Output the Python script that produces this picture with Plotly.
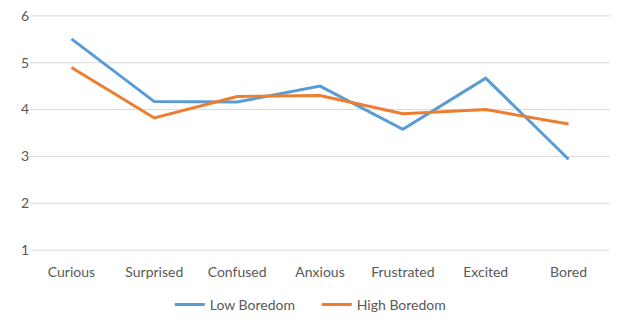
import plotly.graph_objects as go

categories = ["Curious", "Surprised", "Confused", "Anxious", "Frustrated", "Excited", "Bored"]
low_boredom = [5.51, 4.17, 4.16, 4.50, 3.58, 4.67, 2.94]
high_boredom = [4.90, 3.82, 4.28, 4.30, 3.91, 4.00, 3.69]
y_ticks = [1, 2, 3, 4, 5, 6]

fig = go.Figure()
# horizontal gridlines at each y tick (drawn below the data)
for yv in y_ticks:
    fig.add_shape(type="line", xref="paper", yref="y", x0=0, x1=1, y0=yv, y1=yv,
                  line=dict(color="#D9D9D9", width=1), layer="below")

fig.add_trace(go.Scatter(x=categories, y=low_boredom, mode="lines", name="Low Boredom",
                         line=dict(color="#5B9BD5", width=3)))
fig.add_trace(go.Scatter(x=categories, y=high_boredom, mode="lines", name="High Boredom",
                         line=dict(color="#ED7D31", width=3)))

fig.update_layout(
    width=618, height=323,
    margin=dict(l=30, r=8, t=14, b=71, autoexpand=False),
    paper_bgcolor="white", plot_bgcolor="white",
    font=dict(family="Lato, Open Sans, sans-serif", size=14, color="#595959"),
    showlegend=True,
    legend=dict(orientation="h", x=0.241, xanchor="left", yref="container", y=0.056,
                yanchor="middle", font=dict(size=14, color="#595959"),
                itemwidth=30, tracegroupgap=0, entrywidth=102, entrywidthmode="pixels"),
    xaxis=dict(range=[-0.5, 6.5], showgrid=False, showline=False, zeroline=False,
               automargin=False, ticks="", ticklabelstandoff=10,
               tickfont=dict(size=14, color="#595959")),
    yaxis=dict(range=[0.96, 6.04], tickvals=y_ticks, showgrid=False, zeroline=False,
               showline=False, ticks="", automargin=False,
               tickfont=dict(size=14, color="#595959")),
)

fig.write_html("out.html", config={"displayModeBar": False},
               post_script="document.body.style.margin='0';")
